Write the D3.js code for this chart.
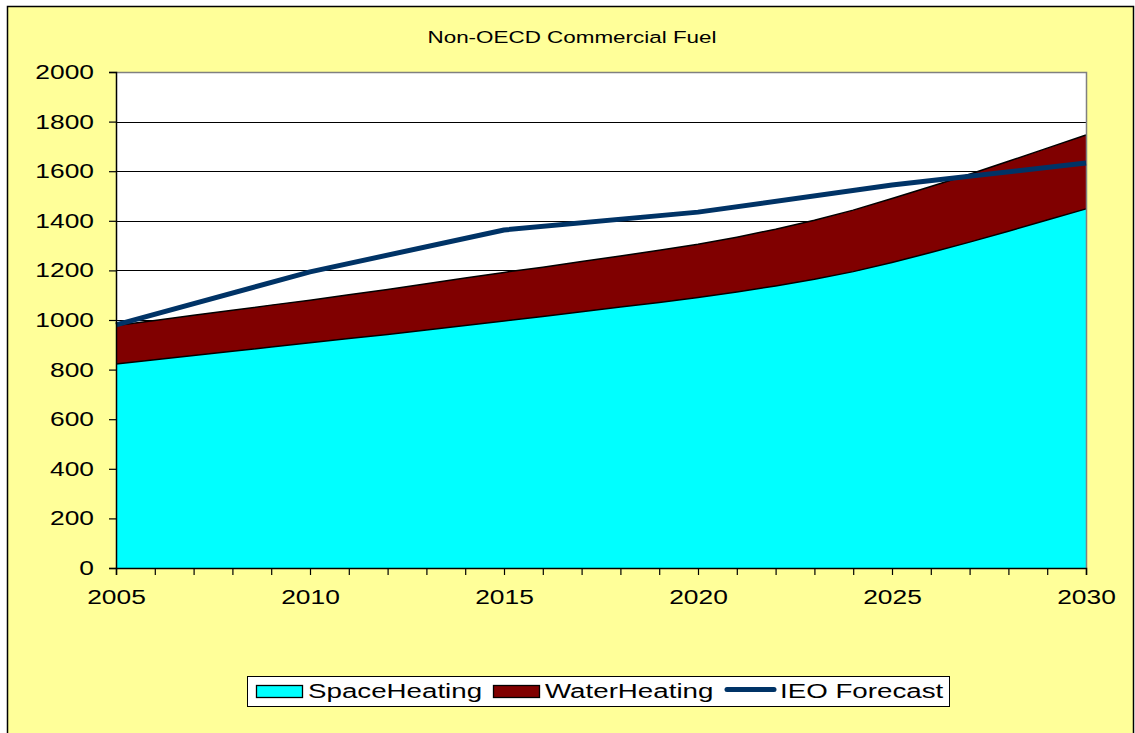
<!DOCTYPE html>
<html>
<head>
<meta charset="utf-8">
<script src="https://cdn.jsdelivr.net/npm/d3@7"></script>
<style>
  html, body { margin: 0; padding: 0; background: #fff; }
  svg { display: block; font-family: "Liberation Sans", Arial, sans-serif; }
</style>
</head>
<body>
<svg id="chart" width="1135" height="733"></svg>
<script>
// annual years for the stacked areas
const years = d3.range(2005, 2031);
const spaceHeating = [823, 840, 857, 874, 891, 908, 925, 942, 960, 978, 996, 1014, 1033,
  1052, 1071, 1091, 1113, 1137, 1164, 1195, 1232, 1272, 1314, 1358, 1403, 1448];
const waterHeating = [155, 158, 162, 165, 169, 172, 177, 181, 186, 191, 196, 199, 203,
  206, 210, 214, 221, 229, 238, 248, 258, 266, 274, 282, 290, 298];
// IEO forecast points
const ieoYears = [2005, 2010, 2015, 2020, 2025, 2030];
const ieoForecast = [980, 1194, 1363, 1435, 1544, 1633];
const yTicks = [0, 200, 400, 600, 800, 1000, 1200, 1400, 1600, 1800, 2000];
const xLabels = [2005, 2010, 2015, 2020, 2025, 2030];

const style = {
  bg: '#ffff99',
  space: '#00ffff',
  water: '#800000',
  ieo: '#003366',
  stretch: 1.32, // the source text is drawn wider than normal
  margin: { left: 116, top: 72, right: 1086, bottom: 568 }
};

const svg = d3.select('#chart');

// chart background + outer border
svg.append('rect')
  .attr('x', 7.5).attr('y', 6.5)
  .attr('width', 1126).attr('height', 740)
  .attr('fill', style.bg)
  .attr('stroke', '#000').attr('stroke-width', 1.5);

const x = d3.scaleLinear().domain([2005, 2030]).range([style.margin.left, style.margin.right]);
const y = d3.scaleLinear().domain([0, 2000]).range([style.margin.bottom, style.margin.top]);

// stretched text helper
const wideText = (g, tx, ty, size, anchor, str) =>
  g.append('text')
    .attr('transform', `translate(${tx},${ty}) scale(${style.stretch},1)`)
    .attr('text-anchor', anchor)
    .style('font-size', size + 'px')
    .attr('fill', '#000')
    .text(str);

// plot area
svg.append('rect')
  .attr('x', x(2005)).attr('y', y(2000))
  .attr('width', x(2030) - x(2005)).attr('height', y(0) - y(2000))
  .attr('fill', '#fff');

// gridlines
svg.append('g')
  .selectAll('line')
  .data(yTicks.filter((d) => d > 0 && d < 2000))
  .join('line')
  .attr('x1', x(2005)).attr('x2', x(2030))
  .attr('y1', (d) => Math.round(y(d)) + 0.5).attr('y2', (d) => Math.round(y(d)) + 0.5)
  .attr('stroke', '#000').attr('stroke-width', 1);

// stacked data
const table = years.map((yr, i) => ({ year: yr, space: spaceHeating[i], water: waterHeating[i] }));
const stack = d3.stack().keys(['space', 'water'])(table);
const area = d3.area()
  .x((d) => x(d.data.year))
  .y0((d) => y(d[0]))
  .y1((d) => y(d[1]));
const topLine = d3.line()
  .x((d) => x(d.data.year))
  .y((d) => y(d[1]));

const fills = { space: style.space, water: style.water };
svg.append('g')
  .selectAll('path')
  .data(stack)
  .join('path')
  .attr('d', area)
  .attr('fill', (d) => fills[d.key]);

svg.append('g')
  .selectAll('path')
  .data(stack)
  .join('path')
  .attr('d', topLine)
  .attr('fill', 'none')
  .attr('stroke', '#000')
  .attr('stroke-width', 1.5);

// plot border: gray top/right
svg.append('path')
  .attr('d', `M${x(2005)},${y(2000) + 0.5}H${x(2030) + 0.5}V${y(0)}`)
  .attr('fill', 'none').attr('stroke', '#808080').attr('stroke-width', 1.5);

// IEO forecast line
svg.append('path')
  .datum(ieoYears.map((yr, i) => [yr, ieoForecast[i]]))
  .attr('d', d3.line().x((d) => x(d[0])).y((d) => y(d[1])))
  .attr('fill', 'none')
  .attr('stroke', style.ieo)
  .attr('stroke-width', 5)
  .attr('stroke-linejoin', 'round');

// y axis
const yAxis = svg.append('g')
  .attr('transform', `translate(${x(2005)},0)`)
  .call(d3.axisLeft(y).tickValues(yTicks).tickSize(7).tickFormat(d3.format('d')));
yAxis.select('.domain').attr('stroke', '#000').attr('stroke-width', 1.5);
yAxis.selectAll('.tick line').attr('stroke', '#000').attr('stroke-width', 1.2);
yAxis.selectAll('.tick text')
  .attr('x', -22 / style.stretch)
  .attr('transform', `scale(${style.stretch},1)`)
  .attr('fill', '#000').style('font-size', '20px')
  .style('font-family', '"Liberation Sans", Arial, sans-serif');

// x axis: annual ticks, labels every 5 years
const xAxis = svg.append('g')
  .attr('transform', `translate(0,${y(0)})`)
  .call(d3.axisBottom(x).tickValues(years).tickSize(7).tickPadding(15)
    .tickFormat((d) => (xLabels.includes(d) ? d : '')));
xAxis.select('.domain').attr('stroke', '#000').attr('stroke-width', 1.5);
xAxis.selectAll('.tick line').attr('stroke', '#000').attr('stroke-width', 1.2);
xAxis.selectAll('.tick text')
  .attr('transform', `scale(${style.stretch},1)`)
  .attr('fill', '#000').style('font-size', '20px')
  .style('font-family', '"Liberation Sans", Arial, sans-serif');

// title
wideText(svg, 572, 43, 17, 'middle', 'Non-OECD Commercial Fuel');

// legend
const legend = svg.append('g');
legend.append('rect')
  .attr('x', 247.5).attr('y', 676.5).attr('width', 702).attr('height', 30)
  .attr('fill', '#fff').attr('stroke', '#000').attr('stroke-width', 1);

const legendItems = [
  { name: 'SpaceHeating', type: 'box', color: style.space, x: 256, tx: 308 },
  { name: 'WaterHeating', type: 'box', color: style.water, x: 493, tx: 545 },
  { name: 'IEO Forecast', type: 'line', color: style.ieo, x: 725, tx: 780 }
];
legendItems.forEach((d) => {
  if (d.type === 'box') {
    legend.append('rect')
      .attr('x', d.x + 0.5).attr('y', 685.5).attr('width', 46).attr('height', 12)
      .attr('fill', d.color).attr('stroke', '#000').attr('stroke-width', 1.3);
  } else {
    legend.append('line')
      .attr('x1', d.x + 2).attr('x2', d.x + 49).attr('y1', 689.5).attr('y2', 689.5)
      .attr('stroke', d.color).attr('stroke-width', 5).attr('stroke-linecap', 'round');
  }
  wideText(legend, d.tx, 698, 21, 'start', d.name);
});
</script>
</body>
</html>
